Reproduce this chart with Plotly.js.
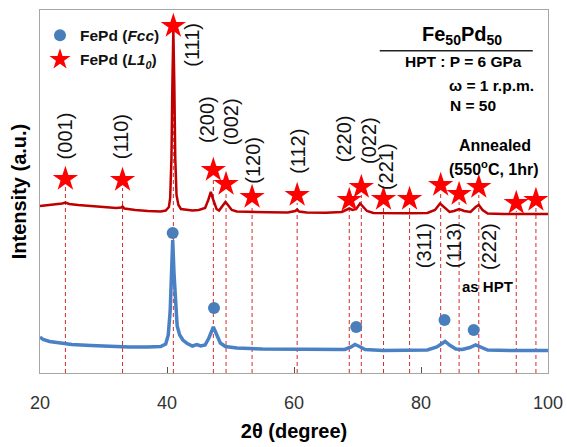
<!DOCTYPE html>
<html>
<head>
<meta charset="utf-8">
<script src="https://cdn.plot.ly/plotly-3.0.1.min.js"></script>
<style>html,body{margin:0;padding:0;background:#fff;}#chart{width:567px;height:447px;}</style>
</head>
<body>
<div id="chart"></div>
<script>
// Annealed (L1_0) pattern
var annealedTheta = [20.0,22.0,23.5,24.0,24.6,26,28,30,32,32.8,33.0,33.3,35,37,39,39.8,40.3,40.5,40.7,40.85,41.0,41.15,41.3,41.5,41.8,42.2,43,44,45,46,46.5,46.9,47.3,47.8,48.2,48.7,49.2,49.6,50.2,51,53,56,59,60.2,60.5,60.8,62,65,67.5,68.3,68.7,69.2,69.8,70.4,70.8,71.5,72.5,75,78,81,82.2,83.0,83.6,84.5,85.2,86.0,86.8,87.8,88.6,89.1,89.7,90.5,93,96,100];
var annealedI = [167,168,169.5,170.5,169,168,167,166,165,165.5,166.5,164.5,163,162,161.5,162.5,166,175,215,290,343,290,215,178,168,164,163,162.5,163,165,173,181,173,164,162.5,167,171,168,163,161.5,161,160.7,160.5,162,163.5,161.5,160.5,160.2,161,163.5,164.5,163,164,169.5,167,162,160,159.7,159.7,160,163,169.5,166,161,162,164,162,161,166,168,163,159.5,159,159,159];
// As-HPT (Fcc) pattern
var hptTheta = [20.0,20.5,21.5,23,25,28,31,34,37,39,39.8,40.2,40.5,40.7,40.9,41.1,41.35,41.6,42.0,42.5,43.2,44,44.7,45.3,46.0,46.6,47.3,47.8,48.4,49.2,51,55,60,65,68,69,69.6,70.3,71.2,74,78,81,82.5,83.8,84.6,85.5,86.5,87.7,88.6,89.4,90.5,94,100];
var hptI = [36,33.5,31.5,30,28.5,27.5,26.5,26,26,26.5,29,38,62,100,133,100,65,47,38,33,29.5,27,28.5,27,28,35,46,38,30,26.5,25,24,23.5,23,23.5,26,28.5,26.5,23.5,22.5,22.5,23,26,31.5,27.5,24,23.5,25.5,28,25.5,23,22.5,22.5];
// L1_0 reflection markers (stars)
var starTheta = [24.0,33.0,41.0,47.3,49.3,53.4,60.5,68.7,70.6,74.1,78.2,83.1,86.0,89.1,95.0,98.1];
var starI = [194,193,347,203,189,176,178,173,186,174,174,188,179,186,170,173];
// Fcc reflection markers (dots)
var dotTheta = [40.9,47.4,69.8,83.7,88.3];
var dotI = [140,65,46,53,43];
// hkl labels
var hklText = ['(001)','(110)','(111)','(200)','(002)','(120)','(112)','(220)','(022)','(221)','(311)','(113)','(222)'];
var hklTheta = [24.0,32.8,43.9,46.3,50.1,53.5,60.6,67.9,71.8,74.5,80.5,85.2,90.7];
var hklI = [237,236,328,253,251,213,222,234,233,206,127,127,127];
var xTicks = [20,40,60,80,100];

var FONT = 'Liberation Sans, Arial, sans-serif';

// dashed guide lines from each star down to the axis
var dx = [], dy = [];
for (var i = 0; i < starTheta.length; i++) {
  dx.push(starTheta[i], starTheta[i], null);
  dy.push(0, starI[i] - 8, null);
}

var traces = [
  {x: dx, y: dy, mode: 'lines', line: {color: '#d42a2a', width: 1, dash: '4px,3px'}, showlegend: false, hoverinfo: 'skip'},
  {x: hptTheta, y: hptI, mode: 'lines', line: {color: '#4a80c4', width: 3.5}, showlegend: false},
  {x: annealedTheta, y: annealedI, mode: 'lines', line: {color: '#c00000', width: 2.5}, showlegend: false},
  {x: dotTheta, y: dotI, mode: 'markers', name: '<b>FePd (<i>Fcc</i>)</b>', legendgroup: 'a',
   marker: {symbol: 'circle', size: 12, color: '#4a7ebb'}},
  {x: starTheta, y: starI, mode: 'markers', name: '<b>FePd (<i>L1<sub>0</sub></i>)</b>', legendgroup: 'b',
   marker: {symbol: 'star', size: 19, color: '#ff0000'}}
];

var annotations = [];
for (var j = 0; j < hklText.length; j++) {
  annotations.push({x: hklTheta[j], y: hklI[j], xref: 'x', yref: 'y', text: hklText[j], showarrow: false,
    textangle: -90, xanchor: 'center', yanchor: 'middle', font: {family: FONT, size: 20, color: '#111'}});
}
function note(x, y, text, size, anchor) {
  annotations.push({x: x, y: y, xref: 'x', yref: 'y', text: text, showarrow: false,
    xanchor: anchor || 'center', yanchor: 'middle', font: {family: FONT, size: size, color: '#000'}});
}
note(86.4, 338, '<b>Fe<sub>50</sub>Pd<sub>50</sub></b>', 20);
note(86.7, 312, '<b>HPT : P = 6 GPa</b>', 15.5);
note(84.1, 288, '<b>ω = 1 r.p.m.</b>', 15.5, 'left');
note(84.25, 268, '<b>N = 50</b>', 15.5, 'left');
note(91.6, 228, '<b>Annealed</b>', 16);
note(91.5, 205, '<b>(550<sup>o</sup>C, 1hr)</b>', 16);
note(90.55, 87, '<b>as HPT</b>', 15);

var layout = {
  width: 567, height: 447,
  margin: {l: 40, r: 19, t: 10, b: 74},
  paper_bgcolor: '#fff', plot_bgcolor: '#fff',
  font: {family: FONT, color: '#000'},
  showlegend: true,
  legend: {x: 0, y: 0.976, xanchor: 'left', yanchor: 'top', bgcolor: 'rgba(0,0,0,0)',
    font: {family: FONT, size: 15.5, color: '#111'}, traceorder: 'grouped', tracegroupgap: 1},
  xaxis: {range: [20, 100], tickvals: xTicks, ticktext: xTicks.map(String), ticks: 'inside', ticklen: 6,
    tickcolor: '#555', tickwidth: 1, showgrid: false, zeroline: false,
    showline: true, mirror: true, linecolor: '#a6a6a6', linewidth: 1.3,
    tickfont: {family: FONT, size: 18, color: '#333'}, ticklabelstandoff: 13,
    title: {text: '<b>2θ (degree)</b>', font: {family: FONT, size: 20, color: '#000'}, standoff: 12}},
  yaxis: {range: [0, 363], showticklabels: false, ticks: '', showgrid: false, zeroline: false,
    showline: true, mirror: true, linecolor: '#a6a6a6', linewidth: 1.3,
    title: {text: '<b>Intensity (a.u.)</b>', font: {family: FONT, size: 20, color: '#000'}, standoff: 6}},
  shapes: [{type: 'line', xref: 'x', yref: 'y', x0: 73.5, x1: 97.6, y0: 322.3, y1: 322.3,
    line: {color: '#222', width: 1.5}}],
  annotations: annotations
};

Plotly.newPlot('chart', traces, layout, {displayModeBar: false, staticPlot: true});
</script>
</body>
</html>
